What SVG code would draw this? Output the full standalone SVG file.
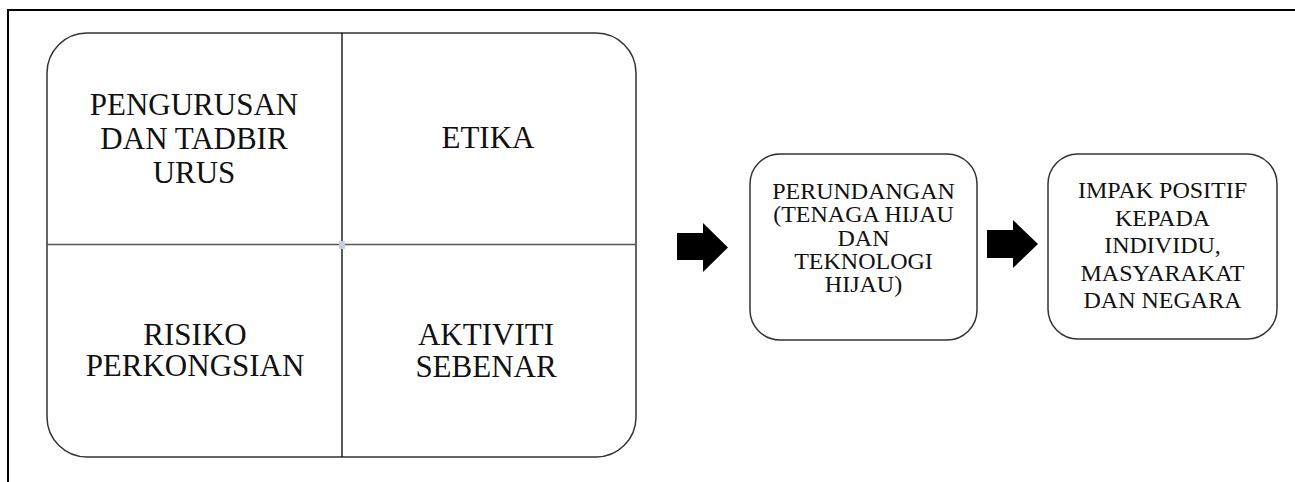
<svg xmlns="http://www.w3.org/2000/svg" width="1295" height="482" viewBox="0 0 1295 482">
<style>
text{font-family:'Liberation Serif','DejaVu Serif',serif;fill:#111;text-anchor:middle}
.q{font-size:31px}
.s{font-size:24px}
.box{fill:#fff;stroke:#333;stroke-width:1.5}
.arrow{fill:#000}
</style>
<rect width="1295" height="482" fill="#fff"/>
<g id="frame">
<line x1="7.5" y1="10" x2="1295" y2="10" stroke="#000" stroke-width="2"/>
<line x1="8" y1="9" x2="8" y2="482" stroke="#000" stroke-width="2"/>
</g>
<g id="matrix">
<rect class="box" x="47" y="33" width="589" height="424" rx="40" ry="40"/>
<line x1="342" y1="33" x2="342" y2="457" stroke="#000" stroke-width="1.3"/>
<line x1="47" y1="244.5" x2="636" y2="244.5" stroke="#555" stroke-width="1.5"/>
<rect x="339" y="241" width="6" height="8" fill="#c5cde2"/>
</g>
<g id="q1" font-family="Liberation Serif, serif">
<text class="q" x="194" y="115">PENGURUSAN</text>
<text class="q" x="194" y="149">DAN TADBIR</text>
<text class="q" x="194" y="183">URUS</text>
</g>
<g id="q2" font-family="Liberation Serif, serif">
<text class="q" x="488" y="148">ETIKA</text>
</g>
<g id="q3" font-family="Liberation Serif, serif">
<text class="q" x="195" y="345">RISIKO</text>
<text class="q" x="195" y="376">PERKONGSIAN</text>
</g>
<g id="q4" font-family="Liberation Serif, serif">
<text class="q" x="486" y="345">AKTIVITI</text>
<text class="q" x="486" y="377">SEBENAR</text>
</g>
<g id="connectors">
<polygon class="arrow" points="677,233 703,233 703,223 728,247.5 703,272 703,260 677,260"/>
<polygon class="arrow" points="987,230 1013,230 1013,220 1038,244 1013,268 1013,258 987,258"/>
</g>
<g id="perundangan" font-family="Liberation Serif, serif">
<rect class="box" x="750" y="154" width="227" height="186" rx="30" ry="30"/>
<text class="s" x="863.5" y="199">PERUNDANGAN</text>
<text class="s" x="863.5" y="222">(TENAGA HIJAU</text>
<text class="s" x="863.5" y="246">DAN</text>
<text class="s" x="863.5" y="269">TEKNOLOGI</text>
<text class="s" x="863.5" y="292">HIJAU)</text>
</g>
<g id="impak" font-family="Liberation Serif, serif">
<rect class="box" x="1048" y="154" width="229" height="185" rx="30" ry="30"/>
<text class="s" x="1162.5" y="198">IMPAK POSITIF</text>
<text class="s" x="1162.5" y="226">KEPADA</text>
<text class="s" x="1162.5" y="253">INDIVIDU,</text>
<text class="s" x="1162.5" y="281">MASYARAKAT</text>
<text class="s" x="1162.5" y="308">DAN NEGARA</text>
</g>
</svg>
